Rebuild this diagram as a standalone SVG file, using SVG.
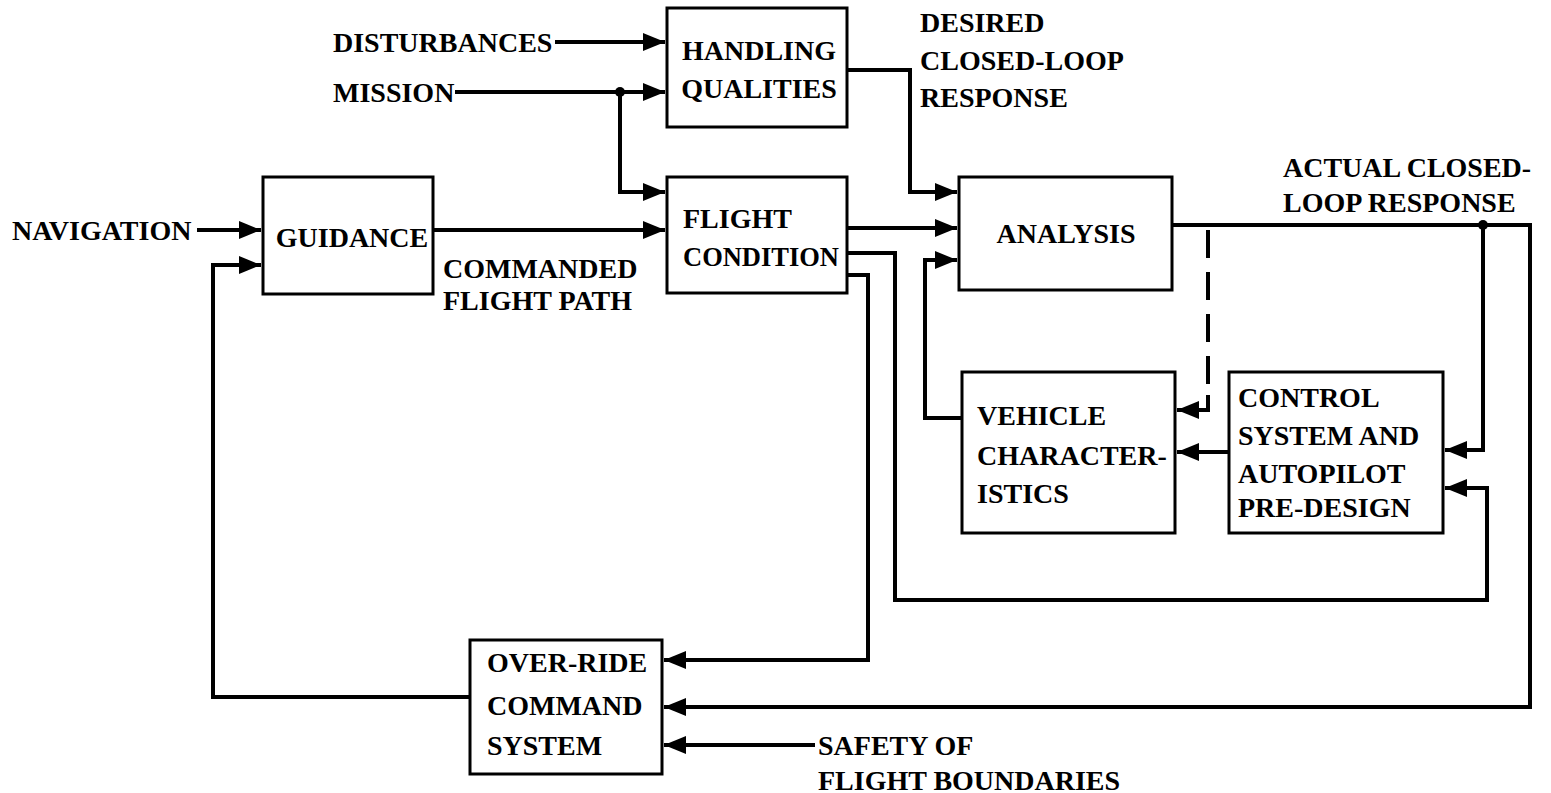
<svg xmlns="http://www.w3.org/2000/svg" width="1551" height="793" viewBox="0 0 1551 793">
<style>
.box{fill:#fff;stroke:#000;stroke-width:3}
.ln{fill:none;stroke:#000;stroke-width:4;stroke-linejoin:miter}
.ar{marker-end:url(#ah)}
.dash{stroke-dasharray:28 14}
text{font-family:"Liberation Serif","DejaVu Serif",serif;font-weight:bold;font-size:28px;fill:#000}
.c{text-anchor:middle}
</style>
<defs>
<marker id="ah" markerUnits="userSpaceOnUse" markerWidth="24" markerHeight="18" refX="22" refY="9" orient="auto">
<path d="M0,0 L22,9 L0,18 z" fill="#000"/>
</marker>
</defs>
<rect width="1551" height="793" fill="#fff"/>
<g id="connectors">
<path class="ln ar" d="M555,42 H665"/>
<path class="ln ar" d="M455,92 H665"/>
<path class="ln ar" d="M620,92 V192 H665"/>
<circle cx="620" cy="92" r="5" fill="#000"/>
<path class="ln ar" d="M847,70 H910 V192 H957"/>
<path class="ln ar" d="M197,230 H261"/>
<path class="ln ar" d="M433,230 H665"/>
<path class="ln ar" d="M847,228 H957"/>
<path class="ln ar" d="M847,253 H895 V600 H1487 V488 H1445"/>
<path class="ln ar" d="M847,275 H868 V660 H664"/>
<path class="ln ar" d="M962,418 H925 V260 H957"/>
<path class="ln ar" d="M1172,225 H1530 V707 H664"/>
<circle cx="1483" cy="225" r="5" fill="#000"/>
<path class="ln ar" d="M1483,225 V450 H1445"/>
<path class="ln dash" d="M1208,230 V395"/>
<path class="ln ar" d="M1208,395 V410 H1177"/>
<path class="ln ar" d="M1229,452 H1177"/>
<path class="ln ar" d="M470,697 H213 V265 H261"/>
<path class="ln ar" d="M815,745 H664"/>
</g>
<g id="n-handling">
<rect class="box" x="667" y="8" width="180" height="119"/>
<text class="c" x="759" y="60">HANDLING</text>
<text class="c" x="759" y="98">QUALITIES</text>
</g>
<g id="n-guidance">
<rect class="box" x="263" y="177" width="170" height="117"/>
<text class="c" x="352" y="247">GUIDANCE</text>
</g>
<g id="n-flight">
<rect class="box" x="667" y="177" width="180" height="116"/>
<text x="683" y="228">FLIGHT</text>
<text x="683" y="266" textLength="156" lengthAdjust="spacingAndGlyphs">CONDITION</text>
</g>
<g id="n-analysis">
<rect class="box" x="959" y="177" width="213" height="113"/>
<text class="c" x="1066" y="243">ANALYSIS</text>
</g>
<g id="n-vehicle">
<rect class="box" x="962" y="372" width="213" height="161"/>
<text x="977" y="425">VEHICLE</text>
<text x="977" y="465">CHARACTER-</text>
<text x="977" y="503">ISTICS</text>
</g>
<g id="n-control">
<rect class="box" x="1229" y="372" width="214" height="161"/>
<text x="1238" y="407">CONTROL</text>
<text x="1238" y="445">SYSTEM AND</text>
<text x="1238" y="483">AUTOPILOT</text>
<text x="1238" y="517">PRE-DESIGN</text>
</g>
<g id="n-override">
<rect class="box" x="470" y="640" width="192" height="134"/>
<text x="487" y="672">OVER-RIDE</text>
<text x="487" y="715">COMMAND</text>
<text x="487" y="755">SYSTEM</text>
</g>
<g id="labels">
<text x="333" y="52">DISTURBANCES</text>
<text x="333" y="102">MISSION</text>
<text x="920" y="32">DESIRED</text>
<text x="920" y="70">CLOSED-LOOP</text>
<text x="920" y="107">RESPONSE</text>
<text x="12" y="240">NAVIGATION</text>
<text x="443" y="278">COMMANDED</text>
<text x="443" y="310">FLIGHT PATH</text>
<text x="1283" y="177">ACTUAL CLOSED-</text>
<text x="1283" y="212">LOOP RESPONSE</text>
<text x="818" y="755">SAFETY OF</text>
<text x="818" y="790">FLIGHT BOUNDARIES</text>
</g>
</svg>
